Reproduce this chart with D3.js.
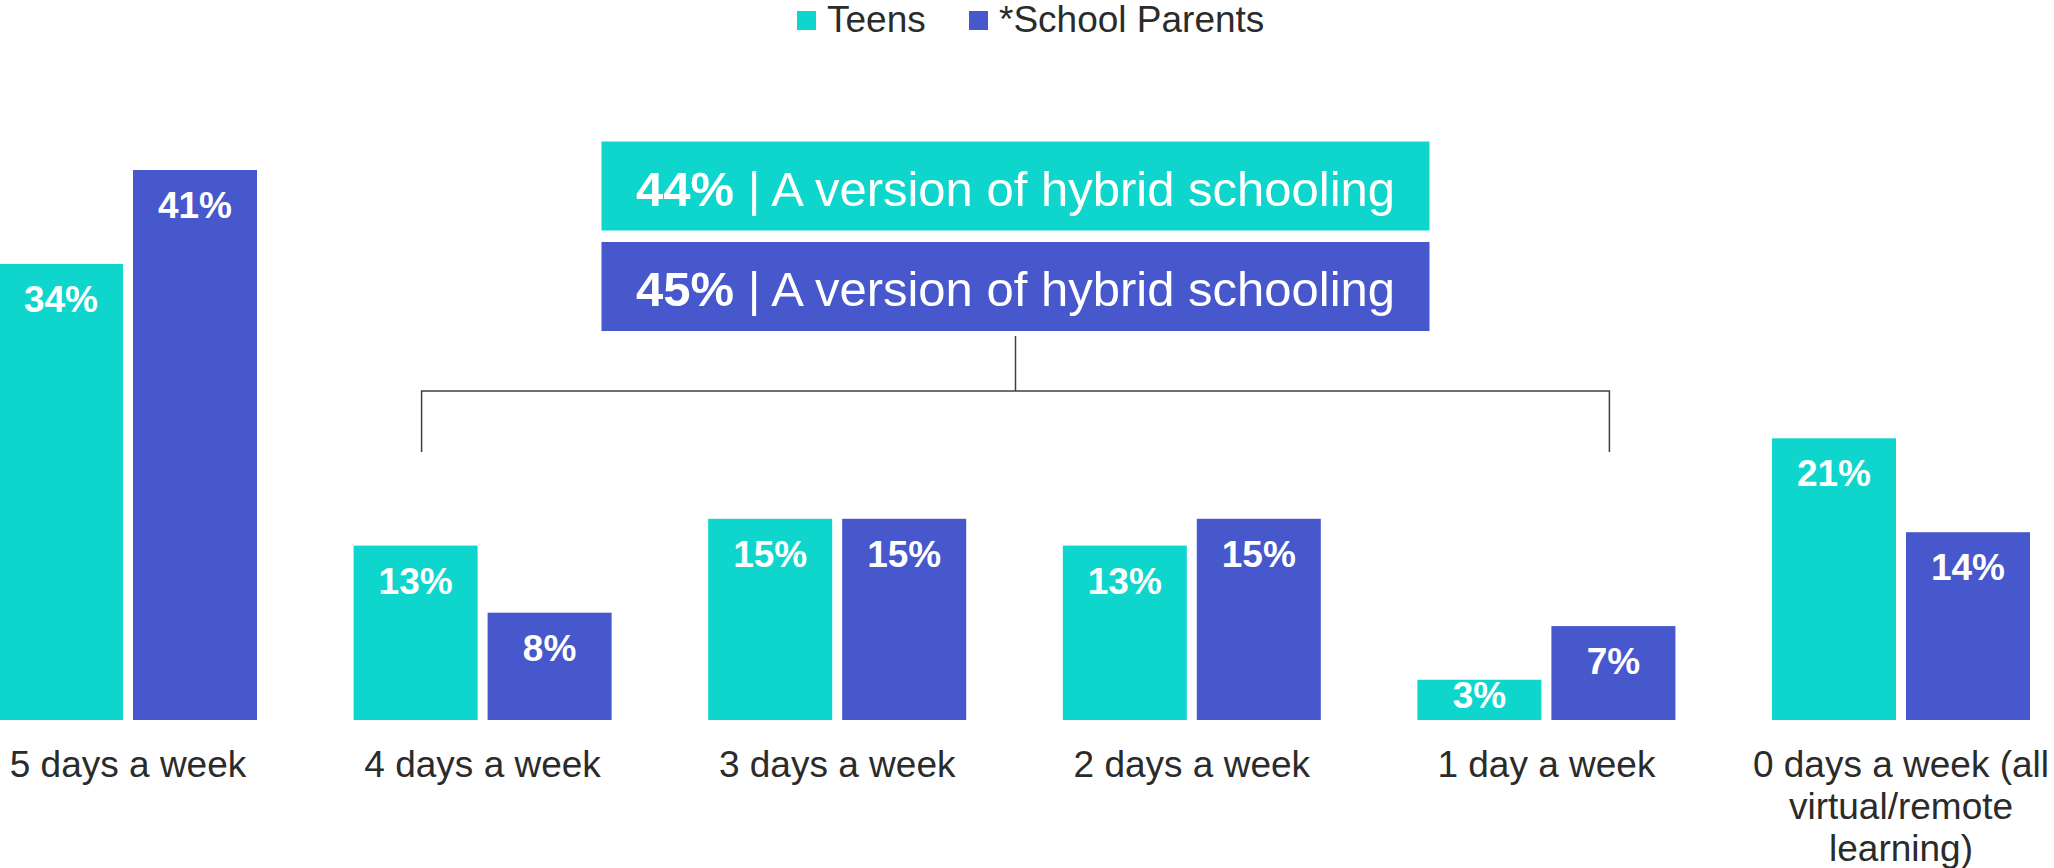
<!DOCTYPE html>
<html>
<head>
<meta charset="utf-8">
<script src="https://cdn.jsdelivr.net/npm/d3@7/dist/d3.min.js"></script>
<style>
  html, body { margin: 0; padding: 0; background: #ffffff; overflow: hidden; }
  svg { display: block; font-family: "Liberation Sans", Arial, sans-serif; }
</style>
</head>
<body>
<svg id="chart" width="2054" height="868"></svg>
<script>
// ---- Data ----
const categories = ["5 days a week", "4 days a week", "3 days a week", "2 days a week", "1 day a week", "0 days a week (all virtual/remote learning)"];
const categoryLines = [["5 days a week"], ["4 days a week"], ["3 days a week"], ["2 days a week"], ["1 day a week"], ["0 days a week (all", "virtual/remote", "learning)"]];
const seriesNames = ["Teens", "*School Parents"];
const teens = [34, 13, 15, 13, 3, 21];
const parents = [41, 8, 15, 15, 7, 14];
const hybridValues = [44, 45];
const hybridText = "A version of hybrid schooling";
const colors = ["#0fd6cc", "#4757cc"];

// ---- Layout ----
const W = 2054, H = 868;
const baseY = 720;
const svg = d3.select("#chart");

const x0 = d3.scaleBand().domain(categories).range([-1, 2030]).paddingInner(0.2724).paddingOuter(0);
const x1 = d3.scaleBand().domain(seriesNames).range([0, x0.bandwidth()]).paddingInner(0.0746).paddingOuter(0);
const y = d3.scaleLinear().domain([0, 41]).range([baseY, 170]);
const color = d3.scaleOrdinal().domain(seriesNames).range(colors);

const rows = categories.map((c, i) => ({ cat: c, lines: categoryLines[i], vals: [
  { s: seriesNames[0], v: teens[i] },
  { s: seriesNames[1], v: parents[i] }
]}));

// ---- Bars ----
const g = svg.append("g");
const groups = g.selectAll("g.grp").data(rows).join("g")
  .attr("class", "grp")
  .attr("transform", d => `translate(${x0(d.cat)},0)`);

groups.selectAll("rect").data(d => d.vals).join("rect")
  .attr("x", d => x1(d.s))
  .attr("y", d => y(d.v))
  .attr("width", x1.bandwidth())
  .attr("height", d => y(0) - y(d.v))
  .attr("fill", d => color(d.s));

groups.selectAll("text.val").data(d => d.vals).join("text")
  .attr("class", "val")
  .attr("x", d => x1(d.s) + x1.bandwidth() / 2)
  .attr("y", d => Math.min(y(d.v) + 48, y(0) - 12))
  .attr("text-anchor", "middle")
  .attr("fill", "#ffffff")
  .attr("font-weight", "bold")
  .attr("font-size", 37)
  .text(d => d.v + "%");

// ---- Category labels (x axis, no line) ----
const xAxis = d3.axisBottom(x0).tickSize(0).tickFormat(() => "");
const axisG = svg.append("g").attr("transform", `translate(0,${baseY})`).call(xAxis);
axisG.select(".domain").remove();
axisG.selectAll(".tick text").remove();
axisG.selectAll(".tick").each(function(d, i) {
  const t = d3.select(this).append("text")
    .attr("text-anchor", "middle")
    .attr("fill", "#2b2b2b")
    .attr("font-size", 37)
    .attr("y", 57);
  categoryLines[i].forEach((line, k) => {
    t.append("tspan").attr("x", 0).attr("dy", k === 0 ? 0 : 42).text(line);
  });
});

// ---- Legend ----
const legend = svg.append("g");
const legendItems = [
  { name: seriesNames[0], x: 797 },
  { name: seriesNames[1], x: 969 }
];
legendItems.forEach(it => {
  legend.append("rect").attr("x", it.x).attr("y", 11).attr("width", 19).attr("height", 19).attr("fill", color(it.name));
  legend.append("text").attr("x", it.x + 30).attr("y", 32).attr("font-size", 37).attr("fill", "#2b2b2b").text(it.name);
});

// ---- Hybrid callout boxes ----
const leftX = x0(categories[1]) + x1(seriesNames[0]) + x1.bandwidth() / 2 + 6;
const rightX = x0(categories[4]) + x1(seriesNames[1]) + x1.bandwidth() / 2 - 4;
const midX = (leftX + rightX) / 2;
const boxW = 828, boxH = 89;
const boxTops = [141.5, 242];
hybridValues.forEach((v, i) => {
  svg.append("rect").attr("x", midX - boxW / 2).attr("y", boxTops[i]).attr("width", boxW).attr("height", boxH)
    .attr("fill", colors[i]);
  const t = svg.append("text").attr("x", midX).attr("y", boxTops[i] + 64)
    .attr("text-anchor", "middle").attr("fill", "#ffffff").attr("font-size", 49);
  t.append("tspan").attr("font-weight", "bold").text(v + "%");
  t.append("tspan").text(" | " + hybridText);
});

// ---- Bracket ----
const bracketY = 391, bracketBottom = 452, stemTop = 336;
const lineColor = "#404040";
svg.append("path")
  .attr("d", `M${leftX},${bracketBottom} V${bracketY} H${rightX} V${bracketBottom} M${midX},${bracketY} V${stemTop}`)
  .attr("fill", "none").attr("stroke", lineColor).attr("stroke-width", 1.5);
</script>
</body>
</html>
